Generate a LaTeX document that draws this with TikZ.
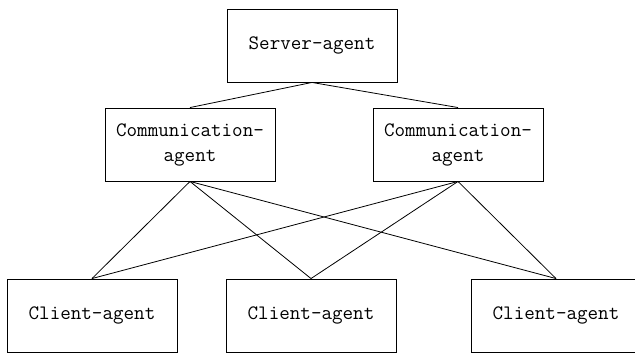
\documentclass[tikz,border=0pt]{standalone}
\usepackage{fontspec}
\usetikzlibrary{positioning}

\tikzset{
  agentbox/.style={draw, line width=0.9pt, minimum width=170pt, minimum height=73pt,
    inner sep=0pt, align=center, font=\ttfamily\fontsize{20.5}{25}\selectfont},
  agentlink/.style={line width=0.8pt}
}

\begin{document}
\begin{tikzpicture}[x=1pt,y=-1pt]
  \useasboundingbox (0,0) rectangle (635,356);
  \node[agentbox] (server) at (312,45.5) {Server-agent};
  \node[agentbox] (commL) at (190,144.5) {Communication-\\agent};
  \node[agentbox] (commR) at (458,144.5) {Communication-\\agent};
  \foreach \name/\x in {clientL/92,clientM/311,clientR/556} {
    \node[agentbox] (\name) at (\x,315.5) {Client-agent};
  }
  \draw[agentlink] (server.south) -- (commL.north);
  \draw[agentlink] (server.south) -- (commR.north);
  % every communication agent talks to every client
  \foreach \c in {commL,commR} {
    \foreach \k in {clientL,clientM,clientR} {
      \draw[agentlink] (\c.south) -- (\k.north);
    }
  }
\end{tikzpicture}
\end{document}
